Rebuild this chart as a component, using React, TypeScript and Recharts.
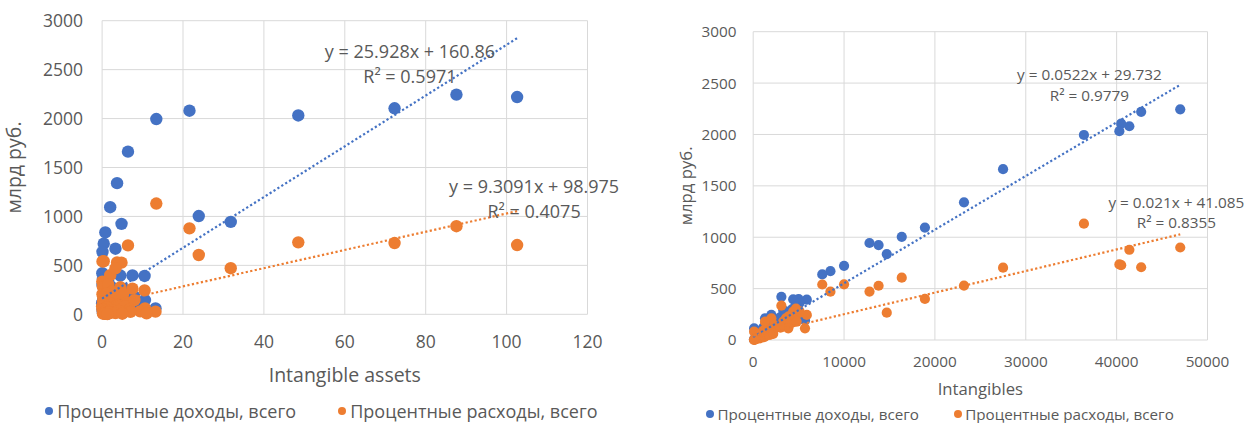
import { ScatterChart, Scatter, XAxis, YAxis, CartesianGrid, Legend, ReferenceDot, Label } from "recharts"

const BLUE = "#4472C4"
const ORANGE = "#ED7D31"
const GRID = "#D9D9D9"
const TEXT = "#595959"
const FONT = "'Open Sans', sans-serif"

const seriesNames = ["Процентные доходы, всего", "Процентные расходы, всего"]

// one entry per bank, same order in every array
const incomeTotal = [
  2245, 2220, 2080, 2105, 2032, 1995, 1662, 1340, 1094, 1004, 944, 924, 836, 722, 670, 638, 420, 398, 392, 396,
  360, 330, 300, 292, 276, 262, 250, 244, 230, 222, 211, 200, 190, 180, 170, 160, 150, 146, 140, 130,
  120, 114, 105, 95, 90, 80, 72, 65, 61, 55, 50, 45, 40, 35, 30, 25, 20, 15, 12, 8, 5,
]
const expenseTotal = [
  900, 708, 878, 728, 735, 1132, 704, 530, 400, 606, 471, 528, 266, 542, 470, 540, 334, 262, 244, 276,
  280, 305, 205, 180, 230, 210, 150, 211, 178, 120, 178, 130, 114, 145, 100, 114, 95, 60, 130, 80,
  90, 81, 40, 70, 49, 55, 35, 50, 27, 30, 44, 16, 25, 20, 18, 12, 10, 8, 6, 4, 2,
]
const intangibleAssets = [
  87.6, 102.6, 21.6, 72.3, 48.5, 13.4, 6.4, 3.7, 2.0, 23.9, 31.8, 4.8, 0.8, 0.4, 3.3, 0.1, 0.05, 7.5, 10.5, 4.5,
  0.2, 1.5, 0.1, 0.6, 2.4, 5.2, 0.9, 1.2, 3.1, 6.1, 0.3, 0.4, 2.0, 8.0, 0.7, 1.8, 3.9, 10.6, 0.2, 5.5,
  0.5, 0.0, 2.7, 1.1, 6.8, 0.3, 4.1, 0.8, 13.2, 9.4, 0.1, 2.2, 7.0, 0.4, 1.6, 3.3, 11.0, 0.2, 5.0, 0.6, 1.3,
]
const intangibles = [
  47000, 42700, 41400, 40500, 40300, 36400, 27500, 23200, 18900, 16350, 12800, 13800, 14700, 10000, 8500, 7600, 3100, 5000, 5900, 4400,
  5100, 4700, 4300, 3300, 3900, 3600, 4000, 2000, 4780, 3000, 1300, 2600, 5700, 2300, 1900, 3860, 1600, 2200, 2940, 1500,
  1100, 100, 1400, 900, 1840, 700, 1000, 600, 1200, 800, 500, 735, 650, 400, 450, 300, 350, 200, 250, 150, 80,
]

const ticksY = [0, 500, 1000, 1500, 2000, 2500, 3000]
const assetsTicks = [0, 20, 40, 60, 80, 100, 120]
const intangiblesTicks = [0, 10000, 20000, 30000, 40000, 50000]

// Excel linear trendlines: slope, intercept, R²
const assetsIncomeFit = [25.928, 160.86, 0.5971]
const assetsExpenseFit = [9.3091, 98.975, 0.4075]
const intangIncomeFit = [0.0522, 29.732, 0.9779]
const intangExpenseFit = [0.021, 41.085, 0.8355]

const panels = [
  {
    xs: intangibleAssets, xTicks: assetsTicks, xTitle: "Intangible assets",
    fits: [assetsIncomeFit, assetsExpenseFit],
    left: 0, width: 620, top: 20.7, right: 32.5, yAxisWidth: 102.1, xAxisHeight: 108.7,
    xTickMargin: 21.2, yTickMargin: 19, tickSize: 17.5, titleSize: 19.5, xTitleOffset: 40.8, yTitleOffset: 14,
    r: 6.2, eqSize: 18, legendSize: 18, legendTop: 399, legendX: [49, 342], legendDot: 8.5, legendGap: 4,
    // equation / R² anchor points in data units
    eqAt: [[76.1, 2683, 2428], [106.8, 1304, 1048]],
  },
  {
    xs: intangibles, xTicks: intangiblesTicks, xTitle: "Intangibles",
    fits: [intangIncomeFit, intangExpenseFit],
    left: 620, width: 626, top: 31.7, right: 38.5, yAxisWidth: 133.2, xAxisHeight: 83,
    xTickMargin: 16.4, yTickMargin: 16.8, tickSize: 15.3, titleSize: 16.7, xTitleOffset: 28.5, yTitleOffset: 66,
    r: 5.1, eqSize: 15.3, legendSize: 15.2, legendTop: 402.4, legendX: [90, 337.7], legendDot: 8, legendGap: 3.5,
    eqAt: [[37000, 2579, 2374], [46570, 1336, 1141]],
  },
]

function Panel({ cfg }: { cfg: any }) {
  const colors = [BLUE, ORANGE]
  const income = cfg.xs.map((x: number, i: number) => ({ x, y: incomeTotal[i] }))
  const expense = cfg.xs.map((x: number, i: number) => ({ x, y: expenseTotal[i] }))
  const xMax = Math.max(...cfg.xs)
  const trend = (f: number[]) => [
    { x: 0, y: f[1] },
    { x: xMax, y: f[0] * xMax + f[1] },
  ]
  const dot = (color: string) => (p: any) => <circle cx={p.cx} cy={p.cy} r={cfg.r} fill={color} />
  const tick = { fill: TEXT, fontSize: cfg.tickSize, fontFamily: FONT }
  const xEnd = cfg.xTicks[cfg.xTicks.length - 1]

  return (
    <div style={{ position: "absolute", left: cfg.left, top: 0 }}>
      <ScatterChart width={cfg.width} height={423} margin={{ top: cfg.top, right: cfg.right, bottom: 0, left: 0 }}>
        <CartesianGrid stroke={GRID} />
        <XAxis
          type="number"
          dataKey="x"
          domain={[0, xEnd]}
          ticks={cfg.xTicks}
          interval={0}
          height={cfg.xAxisHeight}
          axisLine={false}
          tickLine={false}
          tickSize={0}
          tickMargin={cfg.xTickMargin}
          tick={tick}
        >
          <Label value={cfg.xTitle} position="insideBottom" offset={cfg.xTitleOffset} fill={TEXT} fontSize={cfg.titleSize} fontFamily={FONT} />
        </XAxis>
        <YAxis
          type="number"
          dataKey="y"
          domain={[0, 3000]}
          ticks={ticksY}
          interval={0}
          width={cfg.yAxisWidth}
          axisLine={false}
          tickLine={false}
          tickSize={0}
          tickMargin={cfg.yTickMargin}
          tick={tick}
        >
          <Label
            value="млрд руб."
            angle={-90}
            position="insideLeft"
            offset={cfg.yTitleOffset}
            fill={TEXT}
            fontSize={cfg.titleSize}
            fontFamily={FONT}
            style={{ textAnchor: "middle" }}
          />
        </YAxis>
        <Scatter name={seriesNames[0]} data={income} fill={BLUE} shape={dot(BLUE)} isAnimationActive={false} />
        <Scatter name={seriesNames[1]} data={expense} fill={ORANGE} shape={dot(ORANGE)} isAnimationActive={false} />
        {cfg.fits.map((f: number[], i: number) => (
          <Scatter
            key={"t" + i}
            data={trend(f)}
            fill={colors[i]}
            line={{ stroke: colors[i], strokeWidth: 2.2, strokeDasharray: "2.2 2.4" }}
            shape={() => <g />}
            legendType="none"
            isAnimationActive={false}
          />
        ))}
        {cfg.fits.map((f: number[], i: number) => (
          <ReferenceDot
            key={"e" + i}
            x={cfg.eqAt[i][0]}
            y={cfg.eqAt[i][1]}
            r={0}
            fill="none"
            stroke="none"
            ifOverflow="visible"
            label={{ value: `y = ${f[0]}x + ${f[1]}`, position: "center", fill: TEXT, fontSize: cfg.eqSize, fontFamily: FONT }}
          />
        ))}
        {cfg.fits.map((f: number[], i: number) => (
          <ReferenceDot
            key={"r" + i}
            x={cfg.eqAt[i][0]}
            y={cfg.eqAt[i][2]}
            r={0}
            fill="none"
            stroke="none"
            ifOverflow="visible"
            label={{ value: `R² = ${f[2]}`, position: "center", fill: TEXT, fontSize: cfg.eqSize, fontFamily: FONT }}
          />
        ))}
        <Legend
          layout="horizontal"
          verticalAlign="middle"
          align="center"
          wrapperStyle={{ left: 0, top: cfg.legendTop, width: cfg.width, height: 24 }}
          content={({ payload }: any) => (
            <div style={{ position: "relative", height: 24, fontFamily: FONT, fontSize: cfg.legendSize, color: TEXT }}>
              {(payload ?? [])
                .filter((p: any) => seriesNames.includes(p.value))
                .map((p: any, i: number) => (
                  <div
                    key={p.value}
                    style={{
                      position: "absolute",
                      left: cfg.legendX[i] - cfg.legendDot / 2,
                      top: 0,
                      height: 24,
                      lineHeight: "24px",
                      display: "flex",
                      alignItems: "center",
                      whiteSpace: "nowrap",
                    }}
                  >
                    <span
                      style={{
                        display: "inline-block",
                        width: cfg.legendDot,
                        height: cfg.legendDot,
                        borderRadius: "50%",
                        background: p.color,
                        marginRight: cfg.legendGap,
                      }}
                    />
                    {p.value}
                  </div>
                ))}
            </div>
          )}
        />
      </ScatterChart>
    </div>
  )
}

export default function App() {
  return (
    <div style={{ position: "absolute", left: 0, top: 0, width: 1246, height: 423, background: "#fff", fontFamily: FONT }}>
      {panels.map((cfg, i) => (
        <Panel key={i} cfg={cfg} />
      ))}
    </div>
  )
}
